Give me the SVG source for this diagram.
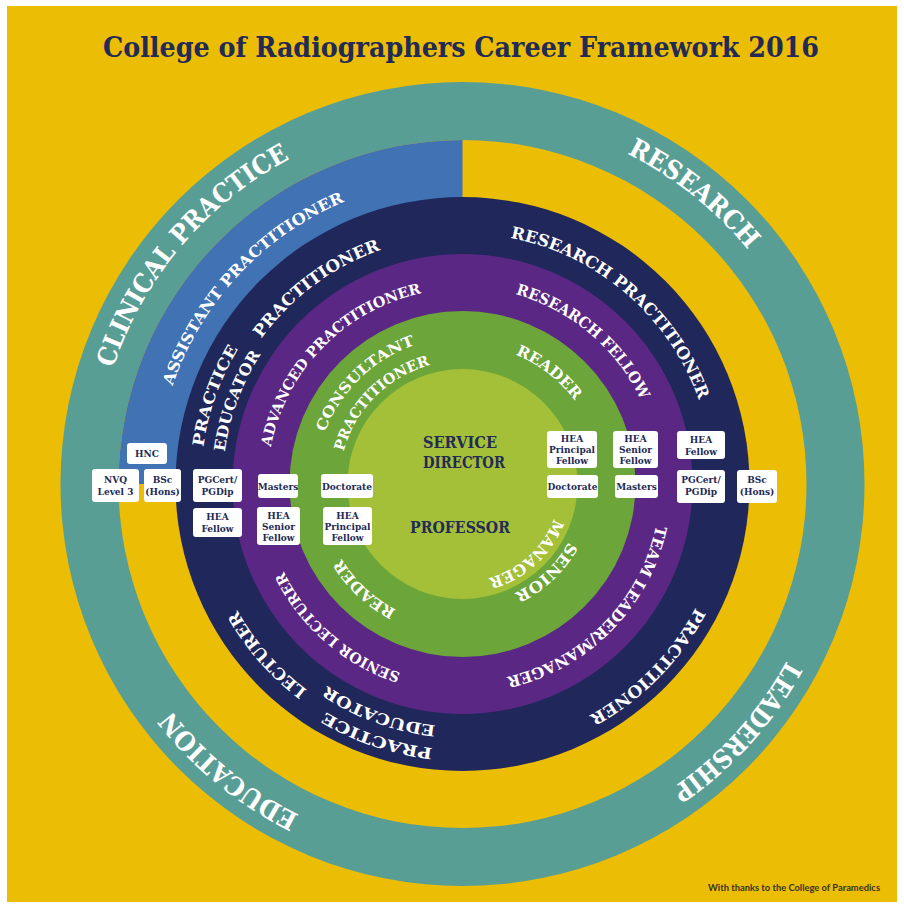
<svg xmlns="http://www.w3.org/2000/svg" width="904" height="908" viewBox="0 0 904 908">
<style>
  .lbl { font-family: "DejaVu Serif", "Liberation Serif", serif; fill: #ffffff; font-weight: bold; }
  .teal-lbl { font-size: 26px; }
  .ring-md { font-size: 16.5px; }
  .ring-sm { font-size: 15.5px; }
  .ring-xs { font-size: 14.5px; }
  .center-txt { font-family: "DejaVu Serif", "Liberation Serif", serif; font-size: 17px; font-weight: bold; fill: #232a55; text-anchor: middle; }
  .box rect { fill: #ffffff; }
  .box text { font-family: "DejaVu Serif", "Liberation Serif", serif; font-size: 9px; font-weight: bold; fill: #232a55; text-anchor: middle; }
</style>
<defs>
  <path id="p1" d="M179.8,719.6 A368,368 0 0 1 647.6,165.9"/>
  <path id="p2" d="M218.2,207.4 A369,369 0 0 1 786.6,660.4"/>
  <path id="p3" d="M703.6,763.3 A369,369 0 0 1 140.4,304.0"/>
  <path id="p4" d="M753.7,257.3 A369,369 0 0 1 266.4,796.6"/>
  <path id="p5" d="M218.1,668.2 A306,306 0 0 1 629.2,227.4"/>
  <path id="p6" d="M240.9,595.4 A248,248 0 0 1 632.6,303.5"/>
  <path id="p7" d="M333.1,711.8 A262,262 0 0 1 506.2,225.7"/>
  <path id="p8" d="M341.8,691.4 A240,240 0 0 1 505.0,247.8"/>
  <path id="p9" d="M303.5,289.8 A251,251 0 0 1 678.3,612.1"/>
  <path id="p10" d="M596.1,704.7 A258,258 0 0 1 261.4,322.3"/>
  <path id="p11" d="M695.8,611.7 A266,266 0 0 1 199.6,443.8"/>
  <path id="p12" d="M672.7,605.9 A243,243 0 0 1 223.3,441.4"/>
  <path id="p13" d="M677.7,331.1 A264,264 0 0 1 312.6,701.3"/>
  <path id="p14" d="M303.9,597.5 A195,195 0 0 1 572.7,323.1"/>
  <path id="p15" d="M336.3,332.7 A197,197 0 0 1 632.8,583.0"/>
  <path id="p16" d="M587.7,638.6 A199,199 0 0 1 291.9,381.5"/>
  <path id="p17" d="M623.9,369.3 A198,198 0 0 1 350.1,647.0"/>
  <path id="p18" d="M368.5,380.3 A140,140 0 0 1 586.3,549.3"/>
  <path id="p19" d="M547.8,597.6 A142,142 0 0 1 343.5,406.5"/>
  <path id="p20" d="M340.8,566.4 A147,147 0 0 1 548.7,364.9"/>
  <path id="p21" d="M361.7,554.6 A123,123 0 0 1 533.1,383.2"/>
  <path id="p22" d="M563.5,417.4 A121,121 0 0 1 390.4,581.1"/>
  <path id="p23" d="M545.2,431.5 A98,98 0 0 1 402.7,561.6"/>
</defs>

<rect x="0" y="0" width="904" height="908" fill="#ffffff"/>
<rect x="7" y="6" width="890" height="896" fill="#ECBD05"/>

<text id="title" x="461" y="57" text-anchor="middle" font-family="DejaVu Serif, Liberation Serif, serif" font-size="28" font-weight="bold" fill="#222a55" textLength="716" lengthAdjust="spacingAndGlyphs">College of Radiographers Career Framework 2016</text>

<g id="rings">
  <circle id="ring-teal" cx="462.5" cy="484" r="402" fill="#599E95"/>
  <circle id="ring-yellow" cx="462.5" cy="484" r="344" fill="#ECBD05"/>
  <path id="sector-blue" d="M462.5,484 L118.5,484 A344,344 0 0 1 462.5,140 Z" fill="#4072B4"/>
  <circle id="ring-navy" cx="462.5" cy="484" r="287" fill="#20275A"/>
  <circle id="ring-purple" cx="462.5" cy="484" r="230" fill="#5B2784"/>
  <circle id="ring-green" cx="462.5" cy="484" r="173" fill="#6CA539"/>
  <circle id="ring-core" cx="462.5" cy="484" r="115" fill="#A3C038"/>
</g>

<g id="connectors"/>

<g id="domain-labels" class="lbl teal-lbl">
  <text id="lbl-clinical"><textPath href="#p1" startOffset="50%" text-anchor="middle" textLength="281" lengthAdjust="spacingAndGlyphs">CLINICAL PRACTICE</textPath></text>
  <text id="lbl-research"><textPath href="#p2" startOffset="50%" text-anchor="middle" textLength="156" lengthAdjust="spacingAndGlyphs">RESEARCH</textPath></text>
  <text id="lbl-education"><textPath href="#p3" startOffset="50%" text-anchor="middle" textLength="167" lengthAdjust="spacingAndGlyphs">EDUCATION</textPath></text>
  <text id="lbl-leadership"><textPath href="#p4" startOffset="50%" text-anchor="middle" textLength="174" lengthAdjust="spacingAndGlyphs">LEADERSHIP</textPath></text>
</g>

<g id="blue-labels" class="lbl ring-sm">
  <text id="lbl-assistant"><textPath href="#p5" startOffset="50%" text-anchor="middle" textLength="260" lengthAdjust="spacingAndGlyphs">ASSISTANT PRACTITIONER</textPath></text>
</g>

<g id="navy-labels" class="lbl ring-md">
  <text id="lbl-practitioner-cp"><textPath href="#p6" startOffset="50%" text-anchor="middle" textLength="151" lengthAdjust="spacingAndGlyphs">PRACTITIONER</textPath></text>
  <g id="lbl-practice-educator-cp" class="ring-sm">
    <text><textPath href="#p7" startOffset="50%" text-anchor="middle" textLength="105" lengthAdjust="spacingAndGlyphs">PRACTICE</textPath></text>
    <text><textPath href="#p8" startOffset="50%" text-anchor="middle" textLength="105" lengthAdjust="spacingAndGlyphs">EDUCATOR</textPath></text>
  </g>
  <text id="lbl-research-practitioner"><textPath href="#p9" startOffset="50%" text-anchor="middle" textLength="260" lengthAdjust="spacingAndGlyphs">RESEARCH PRACTITIONER</textPath></text>
  <text id="lbl-lecturer"><textPath href="#p10" startOffset="50%" text-anchor="middle" textLength="107" lengthAdjust="spacingAndGlyphs">LECTURER</textPath></text>
  <g id="lbl-practice-educator-ed" class="ring-sm">
    <text><textPath href="#p11" startOffset="50%" text-anchor="middle" textLength="114" lengthAdjust="spacingAndGlyphs">PRACTICE</textPath></text>
    <text><textPath href="#p12" startOffset="50%" text-anchor="middle" textLength="117" lengthAdjust="spacingAndGlyphs">EDUCATOR</textPath></text>
  </g>
  <text id="lbl-practitioner-ld"><textPath href="#p13" startOffset="50%" text-anchor="middle" textLength="154" lengthAdjust="spacingAndGlyphs">PRACTITIONER</textPath></text>
</g>

<g id="purple-labels" class="lbl ring-xs">
  <text id="lbl-advanced"><textPath href="#p14" startOffset="50%" text-anchor="middle" textLength="228" lengthAdjust="spacingAndGlyphs">ADVANCED PRACTITIONER</textPath></text>
  <text id="lbl-research-fellow" class="ring-sm"><textPath href="#p15" startOffset="50%" text-anchor="middle" textLength="169" lengthAdjust="spacingAndGlyphs">RESEARCH FELLOW</textPath></text>
  <text id="lbl-senior-lecturer"><textPath href="#p16" startOffset="50%" text-anchor="middle" textLength="159" lengthAdjust="spacingAndGlyphs">SENIOR LECTURER</textPath></text>
  <text id="lbl-team-leader" class="ring-sm"><textPath href="#p17" startOffset="50%" text-anchor="middle" textLength="225" lengthAdjust="spacingAndGlyphs">TEAM LEADER/MANAGER</textPath></text>
</g>

<g id="green-labels" class="lbl ring-sm">
  <text id="lbl-reader-rs"><textPath href="#p18" startOffset="50%" text-anchor="middle" textLength="76" lengthAdjust="spacingAndGlyphs">READER</textPath></text>
  <text id="lbl-reader-ed"><textPath href="#p19" startOffset="50%" text-anchor="middle" textLength="76" lengthAdjust="spacingAndGlyphs">READER</textPath></text>
  <g id="lbl-consultant" class="ring-xs">
    <text><textPath href="#p20" startOffset="50%" text-anchor="middle" textLength="130" lengthAdjust="spacingAndGlyphs">CONSULTANT</textPath></text>
    <text><textPath href="#p21" startOffset="50%" text-anchor="middle" textLength="128" lengthAdjust="spacingAndGlyphs">PRACTITIONER</textPath></text>
  </g>
  <g id="lbl-senior-manager">
    <text><textPath href="#p22" startOffset="50%" text-anchor="middle" textLength="76" lengthAdjust="spacingAndGlyphs">SENIOR</textPath></text>
    <text><textPath href="#p23" startOffset="50%" text-anchor="middle" textLength="92" lengthAdjust="spacingAndGlyphs">MANAGER</textPath></text>
  </g>
</g>

<g id="core-labels">
  <g id="lbl-service-director">
    <text class="center-txt" x="460" y="448" textLength="74" lengthAdjust="spacingAndGlyphs">SERVICE</text>
    <text class="center-txt" x="464" y="468" textLength="82" lengthAdjust="spacingAndGlyphs">DIRECTOR</text>
  </g>
  <text id="lbl-professor" class="center-txt" x="460" y="533" textLength="100" lengthAdjust="spacingAndGlyphs">PROFESSOR</text>
</g>

<g id="qualifications">
  <g id="q-hnc" class="box"><rect x="127" y="443" width="40" height="21" rx="3"/><text x="147" y="457">HNC</text></g>
  <g id="q-nvq" class="box"><rect x="92" y="469" width="47" height="33" rx="3"/><text x="115.5" y="483">NVQ</text><text x="115.5" y="495">Level 3</text></g>
  <g id="q-bsc-l" class="box"><rect x="144" y="469" width="37" height="33" rx="3"/><text x="162.5" y="483">BSc</text><text x="162.5" y="495">(Hons)</text></g>
  <g id="q-pgcert-l" class="box"><rect x="193" y="469" width="49" height="33" rx="3"/><text x="217.5" y="483">PGCert/</text><text x="217.5" y="495">PGDip</text></g>
  <g id="q-hea-fellow-l" class="box"><rect x="193" y="508" width="49" height="29" rx="3"/><text x="217.5" y="520">HEA</text><text x="217.5" y="532">Fellow</text></g>
  <g id="q-masters-l" class="box"><rect x="258" y="474" width="40" height="24" rx="3"/><text x="278" y="489.5">Masters</text></g>
  <g id="q-hea-senior-l" class="box"><rect x="257" y="507" width="43" height="38" rx="3"/><text x="278.5" y="518.5">HEA</text><text x="278.5" y="529.5">Senior</text><text x="278.5" y="540.5">Fellow</text></g>
  <g id="q-doctorate-l" class="box"><rect x="321" y="474" width="52" height="24" rx="3"/><text x="347" y="489.5">Doctorate</text></g>
  <g id="q-hea-principal-l" class="box"><rect x="323" y="507" width="49" height="38" rx="3"/><text x="347.5" y="518.5">HEA</text><text x="347.5" y="529.5">Principal</text><text x="347.5" y="540.5">Fellow</text></g>

  <g id="q-hea-principal-r" class="box"><rect x="547" y="431" width="50" height="37" rx="3"/><text x="572" y="442">HEA</text><text x="572" y="453">Principal</text><text x="572" y="464">Fellow</text></g>
  <g id="q-doctorate-r" class="box"><rect x="547" y="475" width="51" height="23" rx="3"/><text x="572.5" y="490">Doctorate</text></g>
  <g id="q-hea-senior-r" class="box"><rect x="613" y="431" width="45" height="37" rx="3"/><text x="635.5" y="442">HEA</text><text x="635.5" y="453">Senior</text><text x="635.5" y="464">Fellow</text></g>
  <g id="q-masters-r" class="box"><rect x="615" y="475" width="43" height="23" rx="3"/><text x="636.5" y="490">Masters</text></g>
  <g id="q-hea-fellow-r" class="box"><rect x="677" y="431" width="48" height="28" rx="3"/><text x="701" y="443">HEA</text><text x="701" y="455">Fellow</text></g>
  <g id="q-pgcert-r" class="box"><rect x="677" y="470" width="48" height="33" rx="3"/><text x="701" y="483">PGCert/</text><text x="701" y="495">PGDip</text></g>
  <g id="q-bsc-r" class="box"><rect x="737" y="470" width="40" height="33" rx="3"/><text x="757" y="483">BSc</text><text x="757" y="495">(Hons)</text></g>
</g>

<text id="footer" x="794" y="891" text-anchor="middle" font-family="Lato, Liberation Sans, sans-serif" font-size="9" font-weight="bold" fill="#3a3320" textLength="172" lengthAdjust="spacingAndGlyphs">With thanks to the College of Paramedics</text>
</svg>
